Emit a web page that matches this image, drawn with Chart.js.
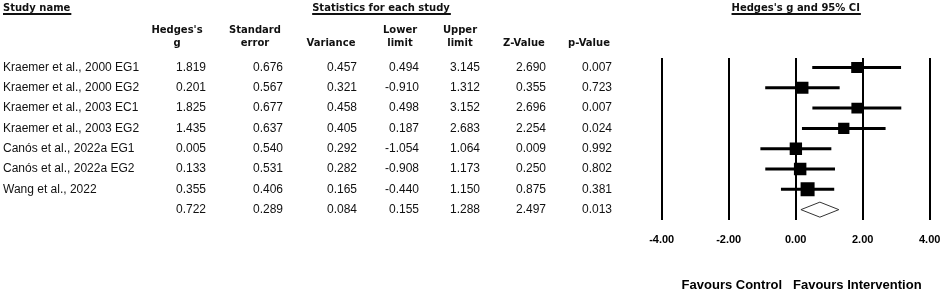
<!DOCTYPE html>
<html>
<head>
<meta charset="utf-8">
<script src="https://cdn.jsdelivr.net/npm/chart.js@4.4.1/dist/chart.umd.min.js"></script>
<style>
  html, body { margin: 0; padding: 0; background: #fff; }
  #wrap { width: 941px; height: 292px; }
</style>
</head>
<body>
<div id="wrap"><canvas id="forest-plot"></canvas></div>
<script>
// --- 1. Data (last entry is the pooled summary) ---
const studyNames = [
    'Kraemer et al., 2000 EG1',
    'Kraemer et al., 2000 EG2',
    'Kraemer et al., 2003 EC1',
    'Kraemer et al., 2003 EG2',
    'Canós et al., 2022a EG1',
    'Canós et al., 2022a EG2',
    'Wang et al., 2022',
    ''
];
const hedgesG    = [1.819, 0.201, 1.825, 1.435, 0.005, 0.133, 0.355, 0.722];
const stdError   = [0.676, 0.567, 0.677, 0.637, 0.540, 0.531, 0.406, 0.289];
const variance   = [0.457, 0.321, 0.458, 0.405, 0.292, 0.282, 0.165, 0.084];
const lowerLimit = [0.494, -0.910, 0.498, 0.187, -1.054, -0.908, -0.440, 0.155];
const upperLimit = [3.145, 1.312, 3.152, 2.683, 1.064, 1.173, 1.150, 1.288];
const zValue     = [2.690, 0.355, 2.696, 2.254, 0.009, 0.250, 0.875, 2.497];
const pValue     = [0.007, 0.723, 0.007, 0.024, 0.992, 0.802, 0.381, 0.013];
const xTicks     = [-4, -2, 0, 2, 4];
const TAU2 = 0.28; // between-study variance used for random-effects weights

const nStudies = studyNames.length - 1;
const SUMMARY = nStudies;

// --- 2. Table layout ---
const BOLD_FONT = 'bold 10px "DejaVu Sans"';
const BODY_FONT = '12px "Liberation Sans", Arial';
const columns = [
    { head: ['Hedges\'s', 'g'], center: 177, right: 206, values: hedgesG },
    { head: ['Standard', 'error'], center: 255, right: 283, values: stdError },
    { head: ['', 'Variance'], center: 331, right: 357, values: variance },
    { head: ['Lower', 'limit'], center: 400, right: 419, values: lowerLimit },
    { head: ['Upper', 'limit'], center: 460, right: 480, values: upperLimit },
    { head: ['', 'Z-Value'], center: 524, right: 546, values: zValue },
    { head: ['', 'p-Value'], center: 589, right: 612, values: pValue }
];

function underlinedTitle(ctx, text, x, align) {
    ctx.font = BOLD_FONT;
    ctx.textAlign = align;
    ctx.fillText(text, x, 8);
    const w = ctx.measureText(text).width;
    const x0 = align === 'center' ? x - w / 2 : x;
    ctx.fillRect(x0, 13, w + 1, 2);
}

const tablePlugin = {
    id: 'forestTable',
    afterDraw(chart) {
        const ctx = chart.ctx;
        const yScale = chart.scales.y;
        const xScale = chart.scales.x;
        ctx.save();
        ctx.fillStyle = '#111';
        ctx.textBaseline = 'middle';

        underlinedTitle(ctx, 'Study name', 3, 'left');
        underlinedTitle(ctx, 'Statistics for each study', 381, 'center');
        underlinedTitle(ctx, 'Hedges\'s g and 95% CI', xScale.getPixelForValue(0), 'center');

        ctx.font = BOLD_FONT;
        ctx.textAlign = 'center';
        columns.forEach(col => {
            ctx.fillText(col.head[0], col.center, 30);
            ctx.fillText(col.head[1], col.center, 43);
        });

        ctx.font = BODY_FONT;
        studyNames.forEach((name, i) => {
            const y = yScale.getPixelForValue(i + 1);
            ctx.textAlign = 'left';
            ctx.fillText(name, 3, y);
            ctx.textAlign = 'right';
            columns.forEach(col => ctx.fillText(col.values[i].toFixed(3), col.right, y));
        });

        // favours labels under the axis
        ctx.font = 'bold 13px "Liberation Sans", Arial';
        ctx.fillStyle = '#000';
        ctx.textAlign = 'right';
        ctx.fillText('Favours Control', 782, 285);
        ctx.textAlign = 'left';
        ctx.fillText('Favours Intervention', 793, 285);
        ctx.restore();
    }
};

// --- 3. Datasets ---
const ciDatasets = hedgesG.slice(0, nStudies).map((g, i) => ({
    data: [{ x: lowerLimit[i], y: i + 1 }, { x: upperLimit[i], y: i + 1 }],
    showLine: true,
    borderColor: '#000',
    borderWidth: 3,
    pointRadius: 0
}));

// square side follows sqrt of random-effects weight
const squareRadius = variance.slice(0, nStudies).map(v => 9.34 * Math.sqrt(1 / (v + TAU2)) / 1.414);

const squareDataset = {
    data: hedgesG.slice(0, nStudies).map((g, i) => ({ x: g, y: i + 1 })),
    pointStyle: 'rect',
    pointRadius: squareRadius,
    backgroundColor: '#000',
    borderColor: '#000',
    borderWidth: 0
};

const DIAMOND_HALF = 0.37;
const row = SUMMARY + 1;
const diamondDataset = {
    data: [
        { x: lowerLimit[SUMMARY], y: row },
        { x: hedgesG[SUMMARY], y: row - DIAMOND_HALF },
        { x: upperLimit[SUMMARY], y: row },
        { x: hedgesG[SUMMARY], y: row + DIAMOND_HALF },
        { x: lowerLimit[SUMMARY], y: row }
    ],
    showLine: true,
    borderColor: '#333',
    borderWidth: 1,
    pointRadius: 0,
    fill: false
};

// --- 4. Chart ---
new Chart(document.getElementById('forest-plot'), {
    type: 'scatter',
    data: { datasets: [...ciDatasets, squareDataset, diamondDataset] },
    options: {
        responsive: true,
        maintainAspectRatio: false,
        animation: false,
        events: [],
        layout: { padding: { left: 661.7, right: 11.3, top: 58, bottom: 46 } },
        plugins: { legend: { display: false }, tooltip: { enabled: false } },
        scales: {
            x: {
                type: 'linear',
                min: -4,
                max: 4,
                afterBuildTicks: scale => { scale.ticks = xTicks.map(v => ({ value: v })); },
                afterFit: scale => {
                    scale.height = 26;
                    scale.paddingLeft = 0;
                    scale.paddingRight = 0;
                },
                grid: { color: '#000', lineWidth: 2, drawTicks: false },
                border: { display: false },
                ticks: {
                    padding: 13,
                    color: '#000',
                    font: { family: '"Liberation Sans", Arial', size: 11, weight: 'bold' },
                    callback: v => v.toFixed(2)
                }
            },
            y: {
                type: 'linear',
                display: false,
                reverse: true,
                min: 0.532,
                max: 8.51
            }
        }
    },
    plugins: [tablePlugin]
});
</script>
</body>
</html>
